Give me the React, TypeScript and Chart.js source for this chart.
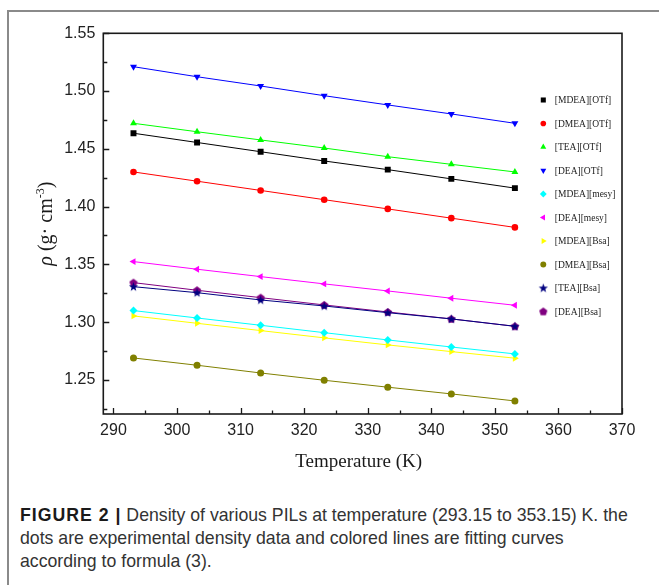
import React, { useEffect, useRef } from "react";
import { Chart, registerables } from "chart.js";
import { drawPoint } from "chart.js/helpers";

Chart.register(...registerables);

// ---------- data ----------
const temperatures = [293.15, 303.15, 313.15, 323.15, 333.15, 343.15, 353.15];

const seriesNames = [
  "[MDEA][OTf]",
  "[DMEA][OTf]",
  "[TEA][OTf]",
  "[DEA][OTf]",
  "[MDEA][mesy]",
  "[DEA][mesy]",
  "[MDEA][Bsa]",
  "[DMEA][Bsa]",
  "[TEA][Bsa]",
  "[DEA][Bsa]",
];

const mdeaOTf = [1.4635, 1.4555, 1.4475, 1.4395, 1.432, 1.424, 1.416];
const dmeaOTf = [1.43, 1.422, 1.414, 1.406, 1.398, 1.39, 1.382];
const teaOTf = [1.4721, 1.4648, 1.4577, 1.4507, 1.4432, 1.4366, 1.43];
const deaOTf = [1.5211, 1.5124, 1.5044, 1.496, 1.488, 1.4802, 1.4721];
const mdeaMesy = [1.31, 1.3036, 1.2973, 1.2909, 1.2846, 1.2785, 1.2725];
const deaMesy = [1.3524, 1.3458, 1.3394, 1.3331, 1.327, 1.3207, 1.3146];
const mdeaBsa = [1.3054, 1.299, 1.2927, 1.2864, 1.2803, 1.2745, 1.2688];
const dmeaBsa = [1.269, 1.2627, 1.256, 1.2497, 1.2437, 1.2379, 1.2318];
const teaBsa = [1.3307, 1.3255, 1.3192, 1.314, 1.3082, 1.3028, 1.2964];
const deaBsa = [1.3342, 1.3276, 1.3212, 1.3149, 1.3088, 1.3028, 1.2964];

const seriesValues = [
  mdeaOTf, dmeaOTf, teaOTf, deaOTf, mdeaMesy,
  deaMesy, mdeaBsa, dmeaBsa, teaBsa, deaBsa,
];

const seriesColors = [
  "#000000", "#ff0000", "#00ff00", "#0000ff", "#00ffff",
  "#ff00ff", "#ffff00", "#808000", "#000080", "#800080",
];

const xTickValues = [290, 300, 310, 320, 330, 340, 350, 360, 370];
const xMinorTicks = [295, 305, 315, 325, 335, 345, 355, 365];
const yTickValues = [1.25, 1.3, 1.35, 1.4, 1.45, 1.5, 1.55];
const yMinorTicks = [1.225, 1.275, 1.325, 1.375, 1.425, 1.475, 1.525];

const xMin = 288.4;
const xMax = 370;
const yMin = 1.2205;
const yMax = 1.55;

// ---------- custom markers ----------
function makeStar(color: string) {
  const c = document.createElement("canvas");
  c.width = 11;
  c.height = 11;
  const g = c.getContext("2d")!;
  g.fillStyle = color;
  g.beginPath();
  for (let i = 0; i < 10; i++) {
    const r = i % 2 === 0 ? 4.8 : 2.0;
    const a = -Math.PI / 2 + (i * Math.PI) / 5;
    const px = 5.5 + r * Math.cos(a);
    const py = 5.8 + r * Math.sin(a);
    if (i === 0) g.moveTo(px, py);
    else g.lineTo(px, py);
  }
  g.closePath();
  g.fill();
  return c;
}

function makePentagon(color: string) {
  const c = document.createElement("canvas");
  c.width = 10;
  c.height = 10;
  const g = c.getContext("2d")!;
  g.fillStyle = color;
  g.beginPath();
  for (let i = 0; i < 5; i++) {
    const a = -Math.PI / 2 + (i * 2 * Math.PI) / 5;
    const px = 5 + 4.3 * Math.cos(a);
    const py = 5.3 + 4.3 * Math.sin(a);
    if (i === 0) g.moveTo(px, py);
    else g.lineTo(px, py);
  }
  g.closePath();
  g.fill();
  return c;
}

export default function App() {
  const canvasRef = useRef<HTMLCanvasElement | null>(null);

  useEffect(() => {
    const canvas = canvasRef.current;
    if (!canvas) return;

    const styles: any[] = [
      { pointStyle: "rect", radius: 4.2, rotation: 0 },
      { pointStyle: "circle", radius: 3.3, rotation: 0 },
      { pointStyle: "triangle", radius: 4, rotation: 0 },
      { pointStyle: "triangle", radius: 4, rotation: 180 },
      { pointStyle: "rectRot", radius: 4, rotation: 0 },
      { pointStyle: "triangle", radius: 4, rotation: -90 },
      { pointStyle: "triangle", radius: 4, rotation: 90 },
      { pointStyle: "circle", radius: 3.5, rotation: 0 },
      { pointStyle: makeStar(seriesColors[8]), radius: 4, rotation: 0 },
      { pointStyle: makePentagon(seriesColors[9]), radius: 4, rotation: 0 },
    ];

    const datasets = seriesValues.map((vals, i) => ({
      label: seriesNames[i],
      data: vals.map((v, j) => ({ x: temperatures[j], y: v })),
      borderColor: seriesColors[i],
      backgroundColor: seriesColors[i],
      borderWidth: 1,
      pointStyle: styles[i].pointStyle,
      pointRadius: styles[i].radius,
      pointRotation: styles[i].rotation,
      pointBorderWidth: 0,
      showLine: true,
      fill: false,
    }));

    const decorPlugin = {
      id: "decor",
      afterDatasetsDraw(chart: any) {
        const { ctx, chartArea, scales } = chart;
        const { left, top, right, bottom } = chartArea;
        const xs = scales.x;
        const ys = scales.y;
        ctx.save();
        ctx.strokeStyle = "#1a1a1a";
        ctx.lineWidth = 1.6;
        ctx.strokeRect(left, top, right - left, bottom - top);
        ctx.lineWidth = 1.3;
        ctx.beginPath();
        xTickValues.forEach((v) => {
          const px = Math.round(xs.getPixelForValue(v)) + 0.5;
          ctx.moveTo(px, bottom);
          ctx.lineTo(px, bottom - 6);
        });
        xMinorTicks.forEach((v) => {
          const px = Math.round(xs.getPixelForValue(v)) + 0.5;
          ctx.moveTo(px, bottom);
          ctx.lineTo(px, bottom - 3.5);
        });
        yTickValues.forEach((v) => {
          const py = Math.round(ys.getPixelForValue(v)) + 0.5;
          ctx.moveTo(left, py);
          ctx.lineTo(left + 6, py);
        });
        yMinorTicks.forEach((v) => {
          const py = Math.round(ys.getPixelForValue(v)) + 0.5;
          ctx.moveTo(left, py);
          ctx.lineTo(left + 4, py);
        });
        ctx.stroke();

        // legend
        const lx = right - 78.7;
        let ly = top + 66.7;
        ctx.font = "9.5px 'Liberation Serif', 'Times New Roman', serif";
        ctx.textBaseline = "middle";
        ctx.textAlign = "left";
        for (let i = 0; i < seriesNames.length; i++) {
          ctx.fillStyle = seriesColors[i];
          ctx.strokeStyle = seriesColors[i];
          drawPoint(ctx, {
            pointStyle: styles[i].pointStyle,
            radius: styles[i].radius * 0.85,
            rotation: styles[i].rotation,
            borderWidth: 0,
          } as any, lx, ly);
          ctx.fillStyle = "#222";
          ctx.fillText(seriesNames[i], lx + 11.5, ly + 0.5);
          ly += 23.5;
        }

        // x title
        ctx.fillStyle = "#1a1a1a";
        ctx.font = "19px 'Liberation Serif', 'Times New Roman', serif";
        ctx.textAlign = "center";
        ctx.textBaseline = "alphabetic";
        ctx.fillText("Temperature (K)", (left + right) / 2 - 4, bottom + 53);

        // y title (rotated)
        const cx = left - 58;
        const cy = (top + bottom) / 2;
        const fMain = "20px 'Liberation Serif', 'Times New Roman', serif";
        const fIt = "italic 20px 'Liberation Serif', 'Times New Roman', serif";
        const fSup = "12px 'Liberation Serif', 'Times New Roman', serif";
        const parts = [
          { t: "\u03C1", f: fIt, dy: 0 },
          { t: " (g\u00B7 cm", f: fMain, dy: 0 },
          { t: "-3", f: fSup, dy: -8 },
          { t: ")", f: fMain, dy: 0 },
        ];
        let total = 0;
        const widths = parts.map((p) => {
          ctx.font = p.f;
          const w = ctx.measureText(p.t).width;
          total += w;
          return w;
        });
        ctx.translate(cx, cy);
        ctx.rotate(-Math.PI / 2);
        ctx.textAlign = "left";
        let px = -total / 2;
        parts.forEach((p, i) => {
          ctx.font = p.f;
          ctx.fillText(p.t, px, 7 + p.dy);
          px += widths[i];
        });
        ctx.restore();
      },
    };

    const chart = new Chart(canvas, {
      type: "line",
      data: { datasets },
      plugins: [decorPlugin],
      options: {
        animation: false,
        responsive: false,
        devicePixelRatio: 1,
        layout: { padding: { left: 0, top: 33.3, right: 37, bottom: 0 } },
        plugins: {
          legend: { display: false },
          tooltip: { enabled: false },
        },
        scales: {
          x: {
            type: "linear",
            min: xMin,
            max: xMax,
            grid: { display: false, drawTicks: false },
            border: { display: false },
            afterBuildTicks: (s: any) => {
              s.ticks = xTickValues.map((v) => ({ value: v }));
            },
            afterFit: (s: any) => {
              s.height = 66;
            },
            ticks: {
              padding: 7,
              color: "#222",
              font: { family: "'Liberation Sans', Arial, sans-serif", size: 16 },
              callback: (v: any) => String(v),
              maxRotation: 0,
              autoSkip: false,
            },
          },
          y: {
            type: "linear",
            min: yMin,
            max: yMax,
            grid: { display: false, drawTicks: false },
            border: { display: false },
            afterBuildTicks: (s: any) => {
              s.ticks = yTickValues.map((v) => ({ value: v }));
            },
            afterFit: (s: any) => {
              s.width = 103.3;
            },
            ticks: {
              padding: 8,
              color: "#222",
              font: { family: "'Liberation Sans', Arial, sans-serif", size: 16 },
              callback: (v: any) => Number(v).toFixed(2),
              autoSkip: false,
            },
          },
        },
      } as any,
    });

    return () => chart.destroy();
  }, []);

  const captionStyle: React.CSSProperties = {
    position: "absolute",
    left: 20,
    whiteSpace: "nowrap",
    fontFamily: "'Liberation Sans', Arial, sans-serif",
    fontSize: 17.7,
    lineHeight: "23px",
    color: "#333",
  };

  return (
    <div
      style={{
        position: "absolute",
        left: 0,
        top: 0,
        width: 659,
        height: 585,
        overflow: "hidden",
        background: "#fff",
      }}
    >
      <div
        style={{
          position: "absolute",
          left: 7,
          top: 10,
          width: 700,
          height: 700,
          borderLeft: "2px solid #8a8a8a",
          borderTop: "2px solid #8a8a8a",
        }}
      />
      <canvas
        ref={canvasRef}
        width={659}
        height={480}
        style={{ position: "absolute", left: 0, top: 0, width: 659, height: 480 }}
      />
      <div style={{ ...captionStyle, top: 503.5 }}>
        <span style={{ fontWeight: "bold", color: "#1a1a1a", letterSpacing: 1 }}>FIGURE 2 |</span> Density of
        various PILs at temperature (293.15 to 353.15) K. the
      </div>
      <div style={{ ...captionStyle, top: 526.5 }}>
        dots are experimental density data and colored lines are fitting curves
      </div>
      <div style={{ ...captionStyle, top: 549.5 }}>according to formula (3).</div>
    </div>
  );
}
